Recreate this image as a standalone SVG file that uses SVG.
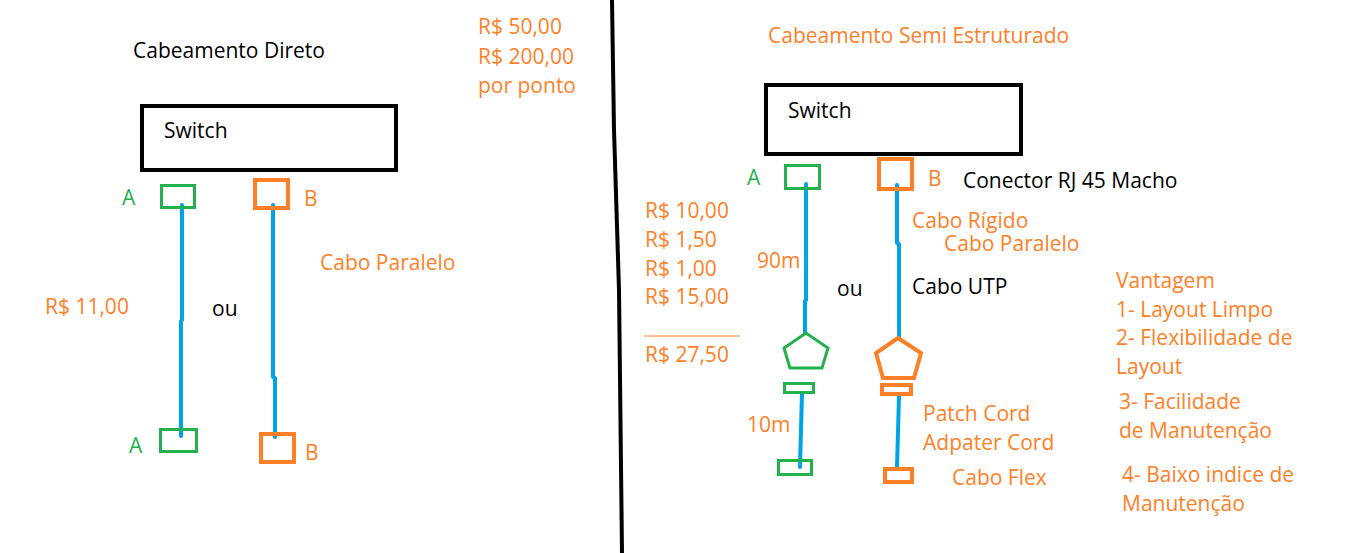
<svg xmlns="http://www.w3.org/2000/svg" width="1345" height="553" viewBox="0 0 1345 553">
<style>
text{font-family:"Open Sans","Noto Sans","Liberation Sans",sans-serif;font-size:21px;transform:translate(0px,1px)}
.k{fill:#000}
.o{fill:#ff7f27}
.g{fill:#22b14c}
.sw{fill:none;stroke:#000;stroke-width:4}
.gb{fill:none;stroke:#22b14c;stroke-width:3}
.ob{fill:none;stroke:#ff7f27;stroke-width:4}
.cable{fill:none;stroke:#00a2e8;stroke-width:4;stroke-linecap:round;stroke-linejoin:round}
</style>
<rect width="1345" height="553" fill="#fff"/>
<g id="divider"><polyline points="612,0 614,130 619,290 622,553" fill="none" stroke="#000" stroke-width="4"/></g>

<g id="left-title"><text class="k" x="133" y="57">Cabeamento Direto</text></g>
<g id="left-prices"><text class="o" x="478" y="33">R$ 50,00</text><text class="o" x="478" y="63">R$ 200,00</text><text class="o" x="478" y="92">por ponto</text></g>
<g id="left-switch"><rect class="sw" x="142" y="106" width="254" height="64"/><text class="k" x="164" y="137">Switch</text></g>

<g id="connectors">
<polyline class="cable" points="182,205 182,320 181,321 181,436"/>
<polyline class="cable" points="273,205 273,377 275,378 275,437"/>
<polyline class="cable" points="806,184 806,300 805,301 805,333"/>
<polyline class="cable" points="802,393 800,467"/>
<polyline class="cable" points="897,185 897,243 899,244 899,337"/>
<polyline class="cable" points="899,396 897,467"/>
</g>

<g id="left-a-top"><rect class="gb" x="161.5" y="185.5" width="33" height="22"/><text class="g" x="122" y="204">A</text></g>
<g id="left-b-top"><rect class="ob" x="255" y="180" width="33" height="28"/><text class="o" x="304" y="205">B</text></g>
<g id="left-a-bottom"><rect class="gb" x="160.5" y="429.5" width="36" height="22"/><text class="g" x="129" y="452">A</text></g>
<g id="left-b-bottom"><rect class="ob" x="261" y="434" width="33" height="28"/><text class="o" x="305" y="459">B</text></g>
<g id="left-labels"><text class="o" x="320" y="269">Cabo Paralelo</text><text class="o" x="45" y="313">R$ 11,00</text><text class="k" x="212" y="315">ou</text></g>

<g id="right-title"><text class="o" x="768" y="42">Cabeamento Semi Estruturado</text></g>
<g id="right-switch"><rect class="sw" x="766" y="85" width="255" height="69"/><text class="k" x="788" y="117">Switch</text></g>
<g id="right-a-top"><rect class="gb" x="785.5" y="165.5" width="34" height="23"/><text class="g" x="747" y="184">A</text></g>
<g id="right-b-top"><rect class="ob" x="879" y="159" width="33" height="30"/><text class="o" x="928" y="185">B</text></g>
<g id="right-connector-label"><text class="k" x="963" y="187">Conector RJ 45 Macho</text></g>
<g id="right-prices"><text class="o" x="645" y="217">R$ 10,00</text><text class="o" x="645" y="246">R$ 1,50</text><text class="o" x="645" y="275">R$ 1,00</text><text class="o" x="645" y="303">R$ 15,00</text><line x1="644" y1="336" x2="740" y2="336" stroke="#ff7f27" stroke-width="1"/><text class="o" x="645" y="361">R$ 27,50</text></g>
<g id="right-labels"><text class="o" x="757" y="267">90m</text><text class="o" x="912" y="227">Cabo Rígido</text><text class="o" x="944" y="250">Cabo Paralelo</text><text class="k" x="837" y="295">ou</text><text class="k" x="912" y="293">Cabo UTP</text></g>
<g id="right-a-path"><polygon class="gb" points="806,333 784,348 790,368 822,368 828,348" stroke-width="4"/><rect class="gb" x="784.5" y="383.5" width="29" height="9"/><rect class="gb" x="778.5" y="460.5" width="33" height="14"/><text class="o" x="747" y="431">10m</text></g>
<g id="right-b-path"><polygon class="ob" points="898,338 876,353 883,378 914,378 921,353"/><rect class="ob" x="882" y="385" width="29" height="9"/><rect class="ob" x="885" y="469" width="27" height="13"/><text class="o" x="923" y="420">Patch Cord</text><text class="o" x="923" y="449">Adpater Cord</text><text class="o" x="952" y="484">Cabo Flex</text></g>
<g id="advantages"><text class="o" x="1116" y="287">Vantagem</text><text class="o" x="1116" y="316">1- Layout Limpo</text><text class="o" x="1116" y="344">2- Flexibilidade de</text><text class="o" x="1116" y="373">Layout</text><text class="o" x="1119" y="408">3- Facilidade</text><text class="o" x="1119" y="437">de Manutenção</text><text class="o" x="1122" y="481">4- Baixo indice de</text><text class="o" x="1122" y="510">Manutenção</text></g>
</svg>
